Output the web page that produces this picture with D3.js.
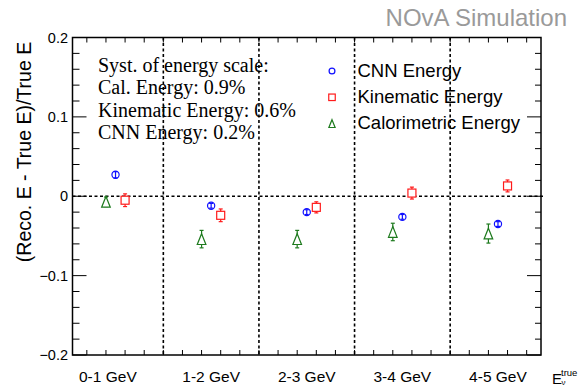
<!DOCTYPE html>
<html>
<head>
<meta charset="utf-8">
<script src="https://cdn.jsdelivr.net/npm/d3@7"></script>
<style>
  body { margin: 0; background: #fff; }
  svg { display: block; }
  .sans { font-family: "Liberation Sans", Arial, Helvetica, sans-serif; }
  .serif { font-family: "Liberation Serif", "Times New Roman", serif; }
</style>
</head>
<body>
<div id="chart"></div>
<script>
// energy bins and where their labels sit (in bin units)
const bins = ["0-1 GeV", "1-2 GeV", "2-3 GeV", "3-4 GeV", "4-5 GeV"];
const binLabelX = [0.42, 1.5, 2.5, 3.5, 4.5];

// (Reco - True)/True per bin, with errors
const cnnVal = [0.027, -0.012, -0.020, -0.026, -0.035];
const cnnErr = [0.004, 0.003, 0.003, 0.003, 0.003];
const kinVal = [-0.005, -0.024, -0.014, 0.004, 0.013];
const kinErr = [0.008, 0.008, 0.007, 0.0075, 0.0075];
const calVal = [-0.007, -0.054, -0.054, -0.045, -0.047];
const calErr = [0.006, 0.011, 0.011, 0.011, 0.012];

const yTicks = [-0.2, -0.1, 0, 0.1, 0.2];
const systLines = ["Syst. of energy scale:", "Cal. Energy: 0.9%", "Kinematic Energy: 0.6%", "CNN Energy: 0.2%"];

const W = 580, H = 385;
const X0 = 72.5, X1 = 541, Y0 = 37.5, Y1 = 355;

const svg = d3.select("#chart").append("svg").attr("width", W).attr("height", H);

const x = d3.scaleLinear().domain([0.05, 4.95]).range([X0, X1]);
const y = d3.scaleLinear().domain([-0.2, 0.2]).range([Y1, Y0]);

// minor/major ticks
const tk = svg.append("g").attr("stroke", "#000").attr("stroke-width", 1);
d3.range(-0.2, 0.2001, 0.02).forEach(v => {
  const major = Math.abs(Math.round(v * 10) - v * 10) < 1e-6;
  tk.append("line").attr("x1", X0).attr("x2", X0 + (major ? 14 : 7))
    .attr("y1", y(v)).attr("y2", y(v));
  tk.append("line").attr("x1", X1).attr("x2", X1 - (major ? 14 : 6))
    .attr("y1", y(v)).attr("y2", y(v));
});
d3.range(0.2, 4.9, 0.2).forEach(v => {
  tk.append("line").attr("x1", x(v)).attr("x2", x(v)).attr("y1", Y1).attr("y2", Y1 - 5);
  tk.append("line").attr("x1", x(v)).attr("x2", x(v)).attr("y1", Y0).attr("y2", Y0 + 5);
});

// bin separators and zero line
const dash = svg.append("g").attr("stroke", "#000").attr("stroke-width", 1.6)
  .attr("stroke-dasharray", "3,2.5");
[1, 2, 3, 4].forEach(b => {
  dash.append("line").attr("x1", x(b)).attr("x2", x(b)).attr("y1", Y0).attr("y2", Y1);
});
dash.append("line").attr("x1", X0).attr("x2", X1 + 4).attr("y1", y(0)).attr("y2", y(0));

// frame
svg.append("rect").attr("x", X0).attr("y", Y0).attr("width", X1 - X0).attr("height", Y1 - Y0)
  .attr("fill", "none").attr("stroke", "#000").attr("stroke-width", 1.5);

// y tick labels
svg.append("g").selectAll("text").data(yTicks).join("text")
  .attr("class", "sans").attr("font-size", 14.5)
  .attr("x", 68).attr("y", d => y(d)).attr("dy", "0.36em").attr("text-anchor", "end")
  .text(d => d === 0 ? "0" : d3.format(".1f")(d).replace("-", "\u2212"));

// x bin labels
svg.append("g").selectAll("text").data(bins).join("text")
  .attr("class", "sans").attr("font-size", 15.5)
  .attr("x", (d, i) => x(binLabelX[i])).attr("y", 381.5).attr("text-anchor", "middle")
  .text(d => d);

// axis titles
svg.append("text").attr("class", "sans").attr("font-size", 19.5)
  .attr("transform", "translate(31,152) rotate(-90)").attr("text-anchor", "middle")
  .text("(Reco. E - True E)/True E");
const xt = svg.append("text").attr("class", "sans").attr("x", 552).attr("y", 383.5);
xt.append("tspan").attr("font-size", 15).text("E");
xt.append("tspan").attr("font-size", 9.5).attr("x", 561).attr("y", 375.5).text("true");
xt.append("tspan").attr("font-size", 8).attr("x", 561.5).attr("y", 384.5).text("\u03bd");

svg.append("text").attr("class", "sans").attr("font-size", 24).attr("fill", "#9a9a9a")
  .attr("x", 567).attr("y", 26).attr("text-anchor", "end").text("NOvA Simulation");

// systematics box text
svg.append("g").selectAll("text").data(systLines).join("text")
  .attr("class", "serif").attr("font-size", 20)
  .attr("x", 98).attr("y", (d, i) => 71.5 + i * 22.5).text(d => d);

// series
const series = [
  { name: "CNN Energy", val: cnnVal, err: cnnErr, off: 0, color: "#1010ff", shape: "circle" },
  { name: "Kinematic Energy", val: kinVal, err: kinErr, off: 0.1, color: "#ff1a1a", shape: "square" },
  { name: "Calorimetric Energy", val: calVal, err: calErr, off: -0.1, color: "#1d7a1d", shape: "triangle" }
];

function marker(g, shape, cx, cy, s, color) {
  if (shape === "circle") {
    g.append("circle").attr("cx", cx).attr("cy", cy).attr("r", s * 0.45)
      .attr("fill", "none").attr("stroke", color).attr("stroke-width", 1.2);
  } else if (shape === "square") {
    g.append("rect").attr("x", cx - s / 2).attr("y", cy - s / 2).attr("width", s).attr("height", s)
      .attr("fill", "#fff").attr("stroke", color).attr("stroke-width", 1.2);
  } else {
    const h = s * 0.6;
    g.append("path")
      .attr("d", `M${cx},${cy - h}L${cx + h * 0.8},${cy + h}L${cx - h * 0.8},${cy + h}Z`)
      .attr("fill", "#fff").attr("stroke", color).attr("stroke-width", 1.2);
  }
}

series.forEach(s => {
  const g = svg.append("g");
  s.val.forEach((v, i) => {
    const cx = x(i + 0.5 + s.off);
    const lo = y(v - s.err[i]), hi = y(v + s.err[i]);
    g.append("line").attr("x1", cx).attr("x2", cx).attr("y1", lo).attr("y2", hi)
      .attr("stroke", s.color).attr("stroke-width", 1.2);
    [lo, hi].forEach(e => g.append("line").attr("x1", cx - 2).attr("x2", cx + 2)
      .attr("y1", e).attr("y2", e).attr("stroke", s.color).attr("stroke-width", 1.2));
    marker(g, s.shape, cx, y(v), s.shape === "triangle" ? 9 : 8, s.color);
  });
});

// legend
const lg = svg.append("g");
series.forEach((s, i) => {
  const ly = 71 + i * 26.3;
  marker(lg, s.shape, 332, ly, 6.5, s.color);
  lg.append("text").attr("class", "sans").attr("font-size", 18.5)
    .attr("x", 357.5).attr("y", ly + 5.5).text(s.name);
});
</script>
</body>
</html>
